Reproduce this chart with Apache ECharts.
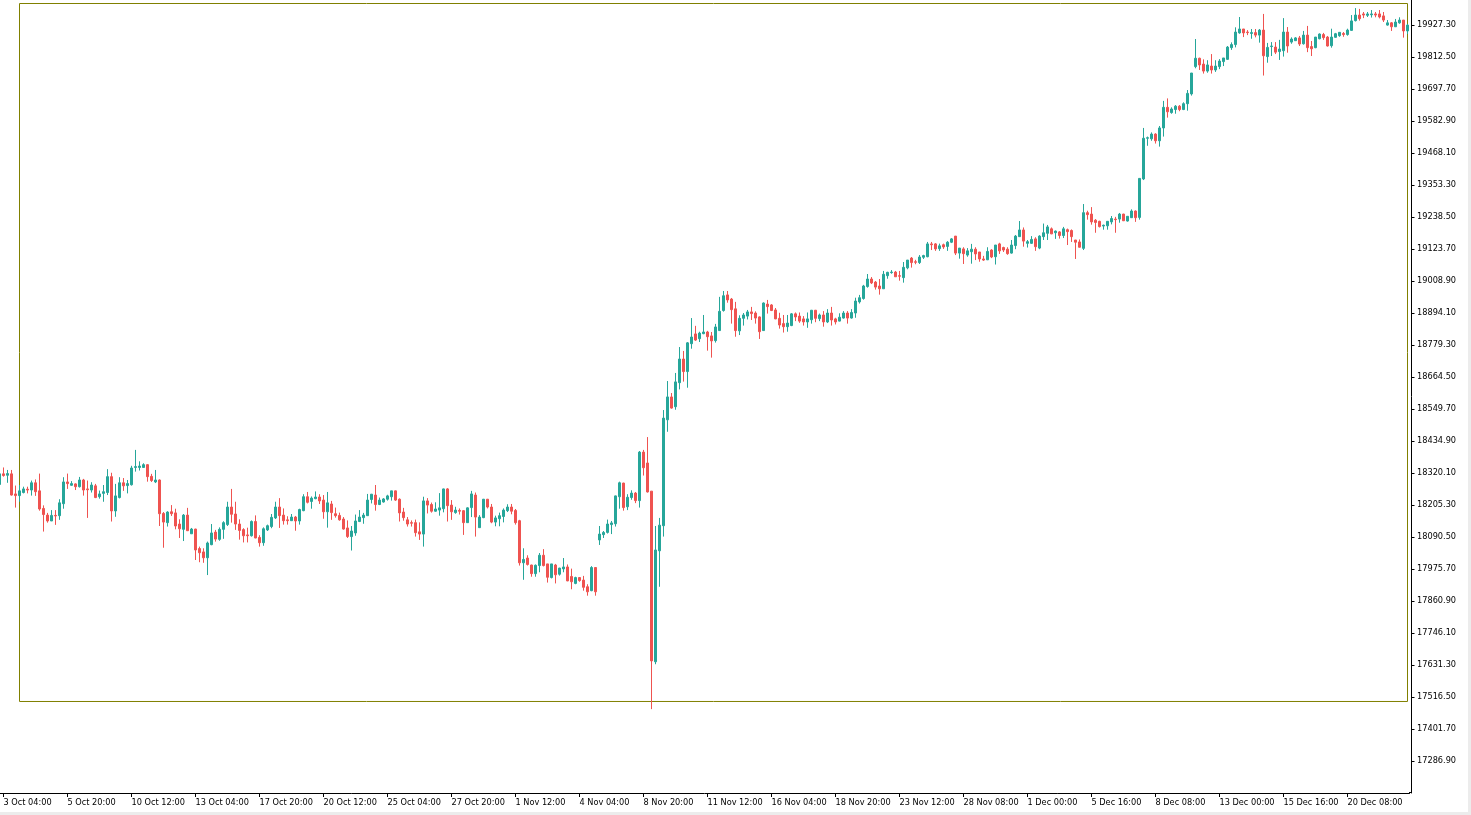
<!DOCTYPE html>
<html>
<head>
<meta charset="utf-8">
<script src="https://cdn.jsdelivr.net/npm/echarts@6/dist/echarts.min.js"></script>
<style>
html,body{margin:0;padding:0;background:#ffffff;overflow:hidden;}
#chart{width:1471px;height:815px;}
</style>
</head>
<body>
<div id="chart"></div>
<script>
// x-axis time labels (every 16th 4H bar, starting at the 2nd bar)
const tickLabels = ['3 Oct 04:00','5 Oct 20:00','10 Oct 12:00','13 Oct 04:00','17 Oct 20:00','20 Oct 12:00','25 Oct 04:00','27 Oct 20:00','1 Nov 12:00','4 Nov 04:00','8 Nov 20:00','11 Nov 12:00','16 Nov 04:00','18 Nov 20:00','23 Nov 12:00','28 Nov 08:00','1 Dec 00:00','5 Dec 16:00','8 Dec 08:00','13 Dec 00:00','15 Dec 16:00','20 Dec 08:00'];

// price-axis tick labels
const yTickLabels = ['17286.90','17401.70','17516.50','17631.30','17746.10','17860.90','17975.70','18090.50','18205.30','18320.10','18434.90','18549.70','18664.50','18779.30','18894.10','19008.90','19123.70','19238.50','19353.30','19468.10','19582.90','19697.70','19812.50','19927.30'];

const opens = [
18279,18317,18312,18317,18245,18239,18250,18262,18259,18285,
18256,18193,18169,18148,18168,18167,18210,18288,18276,18281,
18271,18295,18263,18259,18274,18235,18247,18250,18307,18184,
18232,18285,18275,18278,18340,18340,18340,18350,18308,18288,
18295,18175,18142,18181,18177,18137,18118,18169,18102,18119,
18049,18037,18016,18063,18108,18082,18118,18135,18198,18173,
18137,18117,18098,18095,18146,18089,18070,18116,18128,18159,
18198,18169,18152,18149,18162,18148,18185,18235,18218,18228,
18234,18223,18181,18209,18174,18168,18155,18123,18092,18105,
18146,18160,18167,18225,18241,18207,18216,18226,18235,18256,
18226,18180,18152,18142,18142,18109,18101,18220,18207,18183,
18187,18192,18263,18205,18178,18186,18185,18142,18196,18241,
18124,18160,18226,18198,18144,18156,18164,18185,18198,18186,
18149,17998,18015,17990,17959,17988,18025,17994,17945,17990,
17957,17976,17983,17949,17924,17945,17936,17912,17898,17981,
18080,18099,18107,18135,18138,18235,18284,18199,18232,18248,
18221,18395,18356,18255,17643,18041,18131,18511,18593,18558,
18644,18729,18684,18784,18819,18802,18820,18826,18812,18795,
18831,18903,18959,18944,18909,18830,18875,18883,18898,18894,
18880,18831,18926,18923,18905,18875,18856,18845,18849,18891,
18883,18873,18862,18870,18904,18874,18887,18862,18894,18873,
18865,18876,18894,18876,18894,18934,18946,18989,19016,19005,
18991,18981,19028,19039,19041,19028,19021,19056,19091,19078,
19075,19094,19096,19142,19142,19125,19139,19133,19148,19170,
19109,19124,19102,19114,19123,19113,19088,19085,19120,19096,
19142,19129,19123,19109,19136,19168,19192,19144,19144,19160,
19127,19168,19180,19196,19182,19185,19172,19193,19190,19156,
19149,19126,19254,19249,19227,19223,19206,19207,19221,19231,
19231,19249,19224,19236,19260,19237,19375,19521,19519,19536,
19512,19558,19632,19613,19624,19636,19624,19645,19680,19778,
19808,19787,19762,19780,19766,19778,19796,19804,19846,19857,
19899,19913,19902,19897,19900,19891,19909,19814,19850,19848,
19832,19835,19902,19866,19871,19881,19860,19891,19850,19846,
19878,19893,19884,19853,19883,19889,19897,19893,19908,19943,
19963,19967,19962,19964,19967,19967,19960,19927,19935,19921,
19935,19945,19906
];

const closes = [
18317,18311,18318,18241,18239,18256,18263,18259,18285,18253,
18191,18171,18148,18168,18166,18213,18288,18282,18282,18271,
18295,18259,18260,18277,18232,18245,18253,18307,18184,18238,
18285,18274,18282,18338,18343,18345,18350,18307,18293,18295,
18174,18144,18180,18174,18130,18120,18169,18113,18119,18044,
18034,18016,18069,18105,18083,18118,18142,18198,18172,18137,
18114,18095,18095,18146,18087,18070,18120,18131,18161,18198,
18167,18149,18149,18162,18148,18189,18235,18215,18230,18234,
18220,18181,18213,18178,18167,18152,18119,18092,18112,18148,
18162,18169,18223,18244,18207,18223,18227,18238,18256,18223,
18177,18160,18137,18140,18106,18101,18220,18205,18183,18191,
18195,18263,18203,18181,18187,18183,18142,18195,18245,18162,
18162,18226,18198,18144,18159,18167,18187,18198,18183,18142,
17998,18010,17992,17959,17989,18025,17988,17946,17994,17955,
17979,17983,17933,17930,17945,17934,17910,17894,17981,17894,
18101,18107,18137,18141,18238,18285,18196,18233,18248,18221,
18395,18339,18252,17646,18044,18133,18517,18593,18553,18647,
18729,18684,18787,18808,18797,18822,18826,18809,18794,18844,
18900,18956,18941,18906,18831,18875,18887,18898,18892,18876,
18827,18930,18917,18903,18873,18851,18845,18858,18891,18880,
18865,18862,18873,18904,18875,18887,18862,18894,18869,18862,
18879,18894,18876,18896,18937,18949,18991,19016,19002,18987,
18981,19033,19040,19041,19024,19026,19058,19084,19075,19076,
19095,19100,19142,19139,19124,19135,19131,19148,19160,19109,
19127,19107,19117,19123,19106,19088,19084,19115,19095,19138,
19117,19120,19107,19138,19170,19192,19152,19150,19158,19132,
19170,19182,19203,19178,19188,19172,19196,19186,19168,19148,
19130,19254,19247,19221,19219,19204,19209,19223,19233,19229,
19249,19225,19241,19260,19236,19377,19521,19523,19536,19512,
19558,19632,19616,19626,19636,19624,19645,19682,19755,19808,
19784,19762,19784,19766,19780,19798,19809,19848,19857,19902,
19913,19899,19900,19900,19891,19909,19817,19847,19852,19830,
19841,19902,19852,19877,19881,19859,19891,19846,19842,19884,
19895,19882,19852,19884,19896,19901,19893,19909,19942,19963,
19950,19963,19967,19967,19963,19956,19945,19935,19921,19938,
19945,19906,19927
];

const lows = [
18277,18307,18285,18239,18196,18217,18247,18247,18239,18238,
18185,18110,18142,18148,18134,18152,18192,18263,18274,18259,
18268,18239,18159,18250,18230,18228,18217,18241,18146,18163,
18229,18256,18247,18275,18325,18329,18338,18289,18288,18284,
18130,18052,18128,18166,18118,18087,18076,18112,18102,18008,
18000,17998,17954,18061,18074,18077,18084,18130,18142,18116,
18081,18071,18071,18092,18086,18056,18059,18112,18122,18155,
18123,18135,18135,18148,18113,18135,18183,18211,18192,18226,
18209,18156,18124,18152,18160,18149,18117,18087,18042,18095,
18144,18138,18166,18211,18185,18205,18214,18221,18221,18220,
18146,18149,18128,18128,18092,18080,18056,18175,18178,18181,
18167,18179,18146,18152,18174,18171,18098,18142,18162,18092,
18124,18158,18193,18140,18129,18129,18143,18180,18172,18135,
17988,17937,17988,17948,17948,17964,17985,17927,17942,17924,
17952,17964,17932,17903,17921,17930,17898,17880,17896,17880,
18062,18087,18103,18101,18128,18192,18185,18187,18224,18212,
18196,18311,18250,17473,17634,17912,18092,18468,18551,18547,
18620,18648,18626,18766,18794,18790,18818,18759,18734,18788,
18830,18899,18931,18856,18809,18815,18849,18871,18869,18856,
18801,18830,18892,18901,18872,18838,18824,18827,18847,18865,
18859,18849,18841,18856,18861,18865,18845,18858,18849,18853,
18864,18874,18856,18874,18877,18928,18942,18985,18998,18978,
18960,18981,19017,19035,19024,19010,19003,19051,19057,19069,
19070,19088,19094,19120,19117,19117,19124,19117,19145,19102,
19089,19070,19096,19071,19084,19078,19081,19084,19091,19068,
19106,19113,19103,19107,19123,19167,19132,19129,19142,19117,
19123,19156,19156,19177,19160,19161,19163,19138,19149,19088,
19129,19120,19229,19211,19182,19201,19193,19193,19212,19182,
19218,19224,19222,19235,19221,19229,19371,19494,19512,19502,
19491,19527,19595,19609,19609,19618,19622,19620,19674,19772,
19766,19753,19756,19753,19759,19769,19780,19802,19838,19847,
19896,19884,19891,19878,19883,19864,19746,19792,19816,19823,
19802,19814,19828,19860,19870,19852,19857,19830,19816,19844,
19876,19874,19850,19846,19882,19885,19885,19889,19907,19940,
19943,19952,19956,19954,19955,19951,19938,19925,19906,19920,
19932,19882,19895
];

const highs = [
18325,18340,18331,18331,18275,18277,18271,18271,18293,18297,
18318,18204,18177,18187,18187,18226,18305,18318,18291,18283,
18306,18299,18293,18287,18281,18257,18277,18334,18321,18281,
18305,18302,18295,18346,18403,18362,18355,18352,18317,18331,
18297,18180,18183,18205,18192,18154,18173,18195,18123,18120,
18056,18050,18074,18137,18116,18125,18147,18217,18263,18217,
18154,18122,18124,18150,18168,18097,18125,18135,18173,18217,
18230,18193,18165,18173,18166,18192,18244,18252,18236,18254,
18244,18241,18252,18220,18196,18178,18162,18150,18130,18171,
18187,18177,18245,18245,18277,18232,18230,18242,18256,18257,
18229,18195,18162,18150,18153,18143,18235,18230,18214,18215,
18248,18264,18266,18223,18199,18193,18187,18197,18256,18250,
18169,18227,18227,18209,18167,18178,18193,18208,18209,18191,
18152,18050,18025,17991,17992,18033,18047,17994,17994,17994,
17980,18015,17992,17977,17948,17946,17951,17921,17986,17981,
18130,18112,18153,18148,18239,18289,18285,18244,18258,18252,
18399,18403,18449,18255,18130,18159,18546,18650,18607,18679,
18772,18758,18790,18876,18848,18827,18887,18830,18826,18855,
18952,18973,18973,18948,18934,18886,18894,18905,18916,18900,
18882,18932,18941,18926,18912,18895,18887,18887,18894,18896,
18896,18883,18896,18905,18905,18892,18901,18908,18916,18877,
18893,18901,18901,18908,18949,18959,18995,19034,19023,19009,
19016,19045,19042,19048,19045,19045,19077,19084,19095,19085,
19102,19103,19149,19149,19145,19143,19143,19152,19163,19170,
19127,19130,19127,19142,19130,19113,19099,19130,19123,19138,
19146,19132,19130,19156,19174,19224,19201,19156,19170,19166,
19173,19215,19210,19201,19190,19188,19203,19197,19194,19156,
19158,19285,19261,19274,19231,19225,19211,19224,19242,19239,
19253,19250,19242,19266,19262,19378,19558,19527,19542,19539,
19565,19655,19664,19632,19640,19640,19650,19694,19755,19877,
19810,19804,19801,19823,19801,19805,19809,19852,19865,19919,
19956,19913,19909,19913,19913,19913,19967,19863,19866,19866,
19874,19952,19920,19883,19884,19888,19906,19924,19870,19884,
19897,19899,19888,19914,19899,19902,19902,19914,19963,19988,
19985,19974,19974,19981,19974,19981,19974,19945,19938,19949,
19955,19945,19931
];

// drawn rectangle object (bar indices and prices of its corners)
const rectStartBar = 5, rectEndBar = 352;
const rectTopPrice = 20004.4, rectBottomPrice = 17500.4;

const categories = opens.map((_, i) => 'c' + i);
const candles = opens.map((o, i) => [o, closes[i], lows[i], highs[i]]);
const isTick = (i) => i >= 1 && (i - 1) % 16 === 0 && ((i - 1) / 16) < tickLabels.length;
const yTickValues = yTickLabels.map(Number);

const UP = '#26a69a', DOWN = '#ef5350';
const FONT = 'DejaVu Sans';

const chart = echarts.init(document.getElementById('chart'), null, { renderer: 'canvas' });
chart.setOption({
  animation: false,
  backgroundColor: '#ffffff',
  grid: { left: -2.5, top: 0, width: 1412, height: 793, containLabel: false, outerBoundsMode: 'none' },
  xAxis: {
    type: 'category',
    data: categories,
    boundaryGap: true,
    axisLine: { show: true, lineStyle: { color: '#000000', width: 1 } },
    axisTick: { show: true, alignWithLabel: true, length: 4, interval: (i) => isTick(i), lineStyle: { color: '#000000' } },
    axisLabel: {
      show: true,
      interval: (i) => isTick(i),
      formatter: (v) => { const i = parseInt(String(v).slice(1), 10); return isTick(i) ? tickLabels[(i - 1) / 16] : ''; },
      align: 'left',
      margin: 6,
      color: '#000000',
      fontFamily: FONT,
      fontSize: 8.2
    },
    splitLine: { show: false }
  },
  yAxis: {
    type: 'value',
    position: 'right',
    offset: 2,
    min: 17172.1,
    max: 20017,
    axisLine: { show: true, lineStyle: { color: '#000000', width: 1 } },
    axisTick: { show: true, inside: false, length: 3, customValues: yTickValues, lineStyle: { color: '#000000' } },
    axisLabel: {
      show: true,
      customValues: yTickValues,
      formatter: (v) => Number(v).toFixed(2),
      margin: 5.5,
      color: '#000000',
      fontFamily: FONT,
      fontSize: 8.2
    },
    splitLine: { show: false }
  },
  series: [{
    type: 'candlestick',
    data: candles,
    barWidth: 2,
    itemStyle: { color: UP, color0: DOWN, borderColor: UP, borderColor0: DOWN, borderWidth: 1 },
    emphasis: { disabled: true },
    markArea: {
      silent: true,
      label: { show: false },
      itemStyle: { color: 'rgba(0,0,0,0)', borderColor: '#808000', borderWidth: 1 },
      data: [[
        { coord: [rectStartBar, rectTopPrice] },
        { coord: [rectEndBar, rectBottomPrice] }
      ]]
    }
  }],
  graphic: [
    { type: 'line', silent: true, shape: { x1: 1409, y1: 792.5, x2: 1412, y2: 792.5 }, style: { stroke: '#000000', lineWidth: 1 } },
    { type: 'rect', silent: true, shape: { x: 0, y: 812, width: 1471, height: 3 }, style: { fill: '#ececec' } },
    { type: 'rect', silent: true, shape: { x: 1468, y: 0, width: 3, height: 815 }, style: { fill: '#ececec' } }
  ]
});
</script>
</body>
</html>
